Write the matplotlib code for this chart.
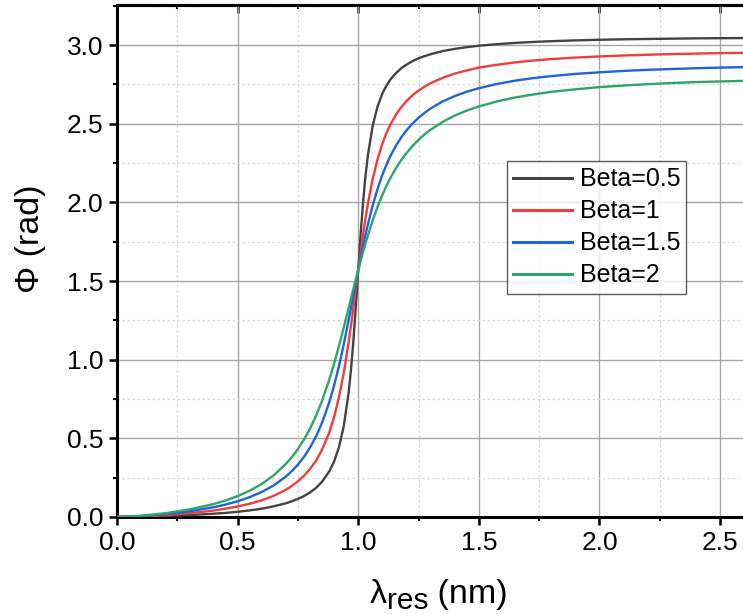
import matplotlib
matplotlib.use('Agg')
import matplotlib.pyplot as plt
from matplotlib.ticker import MultipleLocator

plt.rcParams['font.family'] = ['Liberation Sans', 'DejaVu Sans']

# ---- data ----
lam = [0, 0.1, 0.2, 0.3, 0.4, 0.45, 0.5, 0.55, 0.6, 0.65,
       0.7, 0.725, 0.75, 0.775, 0.8, 0.825, 0.85, 0.88, 0.9, 0.92,
       0.94, 0.96, 0.97, 0.98, 0.99, 1.0, 1.01, 1.02, 1.03, 1.04,
       1.06, 1.08, 1.1, 1.115, 1.13, 1.145, 1.16, 1.18, 1.2, 1.225,
       1.25, 1.275, 1.3, 1.35, 1.4, 1.45, 1.5, 1.575, 1.65, 1.725,
       1.8, 1.9, 2.0, 2.1, 2.2, 2.3, 2.4, 2.5, 2.6]

phi_beta_05 = [0, 0.002, 0.006, 0.012, 0.021, 0.026, 0.033, 0.042, 0.053, 0.068,
               0.087, 0.100, 0.115, 0.133, 0.156, 0.185, 0.224, 0.290, 0.353, 0.443,
               0.578, 0.788, 0.937, 1.121, 1.337, 1.571, 1.799, 2.000, 2.167, 2.300,
               2.488, 2.609, 2.692, 2.737, 2.774, 2.803, 2.827, 2.855, 2.876, 2.898,
               2.916, 2.930, 2.942, 2.962, 2.976, 2.987, 2.996, 3.006, 3.014, 3.020,
               3.025, 3.030, 3.034, 3.037, 3.039, 3.041, 3.043, 3.044, 3.045]
phi_beta_1 = [0, 0.004, 0.012, 0.024, 0.041, 0.053, 0.067, 0.084, 0.106, 0.135,
              0.173, 0.198, 0.227, 0.262, 0.305, 0.358, 0.427, 0.538, 0.635, 0.760,
              0.916, 1.110, 1.218, 1.334, 1.452, 1.571, 1.686, 1.796, 1.898, 1.991,
              2.149, 2.274, 2.373, 2.434, 2.485, 2.528, 2.566, 2.608, 2.644, 2.681,
              2.711, 2.736, 2.758, 2.792, 2.819, 2.839, 2.857, 2.875, 2.890, 2.902,
              2.911, 2.921, 2.928, 2.934, 2.939, 2.943, 2.946, 2.949, 2.951]
phi_beta_15 = [0, 0.006, 0.018, 0.036, 0.062, 0.079, 0.100, 0.126, 0.159, 0.201,
               0.257, 0.292, 0.333, 0.382, 0.441, 0.512, 0.599, 0.730, 0.836, 0.958,
               1.098, 1.251, 1.330, 1.411, 1.491, 1.571, 1.648, 1.722, 1.793, 1.860,
               1.981, 2.086, 2.175, 2.232, 2.284, 2.329, 2.370, 2.417, 2.458, 2.501,
               2.538, 2.570, 2.597, 2.642, 2.676, 2.704, 2.726, 2.753, 2.774, 2.790,
               2.803, 2.817, 2.827, 2.836, 2.843, 2.848, 2.853, 2.857, 2.860]
phi_beta_2 = [0, 0.008, 0.024, 0.048, 0.082, 0.105, 0.133, 0.167, 0.210, 0.265,
              0.337, 0.381, 0.432, 0.492, 0.561, 0.643, 0.738, 0.873, 0.975, 1.086,
              1.205, 1.327, 1.389, 1.451, 1.511, 1.571, 1.629, 1.685, 1.739, 1.790,
              1.886, 1.972, 2.048, 2.099, 2.146, 2.188, 2.227, 2.273, 2.314, 2.359,
              2.398, 2.433, 2.462, 2.512, 2.552, 2.584, 2.610, 2.642, 2.667, 2.686,
              2.703, 2.719, 2.733, 2.743, 2.752, 2.759, 2.765, 2.769, 2.773]

series_labels = ['Beta=0.5', 'Beta=1', 'Beta=1.5', 'Beta=2']
series_values = [phi_beta_05, phi_beta_1, phi_beta_15, phi_beta_2]
series_colors = ['#434343', '#f23c3c', '#1d63e0', '#2aa66a']

x_ticks = [0.0, 0.5, 1.0, 1.5, 2.0, 2.5]
y_ticks = [0.0, 0.5, 1.0, 1.5, 2.0, 2.5, 3.0]

# ---- figure ----
W, H = 743, 614
fig = plt.figure(figsize=(W / 100, H / 100), dpi=100)
ax = fig.add_axes([117 / W, 1 - 517 / H, (W - 117) / W, (517 - 5) / H])

for lab, vals, col in zip(series_labels, series_values, series_colors):
    ax.plot(lam, vals, color=col, lw=1.7, label=lab, zorder=3)

ax.set_xlim(0, 2.595)
ax.set_ylim(0, 3.255)
ax.set_xticks(x_ticks)
ax.set_xticklabels([f'{v:.1f}' for v in x_ticks])
ax.set_yticks(y_ticks)
ax.set_yticklabels([f'{v:.1f}' for v in y_ticks])
ax.xaxis.set_minor_locator(MultipleLocator(0.25))
ax.yaxis.set_minor_locator(MultipleLocator(0.25))

ax.set_axisbelow(True)
ax.grid(which='major', color='#a6a6a6', lw=1.0)
ax.grid(which='minor', color='#d9d9d9', lw=0.9, linestyle=(0, (2, 2)))

for s in ['left', 'bottom', 'top']:
    ax.spines[s].set_linewidth(2.2)
    ax.spines[s].set_color('black')
ax.spines['right'].set_visible(False)

ax.tick_params(which='major', direction='out', length=6, width=1.8,
               labelsize=19, pad=4, colors='black')
ax.tick_params(which='minor', direction='out', length=3, width=1.5)
ax.tick_params(axis='y', which='both', right=False)

top = ax.secondary_xaxis('top')
top.set_xticks(x_ticks)
top.xaxis.set_minor_locator(MultipleLocator(0.25))
top.tick_params(which='major', direction='in', length=6, width=1.8, labeltop=False)
top.tick_params(which='minor', direction='in', length=3, width=1.5)
top.spines['top'].set_linewidth(2.2)

leg = ax.legend(loc='upper left', bbox_to_anchor=(507 / W, 1 - 161 / H),
                bbox_transform=fig.transFigure, borderaxespad=0, fontsize=18,
                frameon=True, fancybox=False, edgecolor='#333333',
                handlelength=2.35, handletextpad=0.3, labelspacing=0.32,
                borderpad=0.25)
leg.get_frame().set_linewidth(1.0)
for ln in leg.get_lines():
    ln.set_linewidth(2.2)

# y label
fig.text(31 / W, 1 - 239 / H, 'Φ (rad)', rotation=90, ha='center', va='center',
         fontsize=24.5)

# x label with subscript built from pieces
renderer = fig.canvas.get_renderer()
base_y = 1 - 603 / H
t1 = fig.text(370 / W, base_y, 'λ', fontsize=24.5, ha='left', va='baseline')
bb = t1.get_window_extent(renderer)
t2 = fig.text(bb.x1 / W, base_y - 6 / H, 'res', fontsize=21.5, ha='left', va='baseline')
bb2 = t2.get_window_extent(renderer)
fig.text(bb2.x1 / W, base_y, ' (nm)', fontsize=24.5, ha='left', va='baseline')

fig.savefig('out.png', dpi=100)
